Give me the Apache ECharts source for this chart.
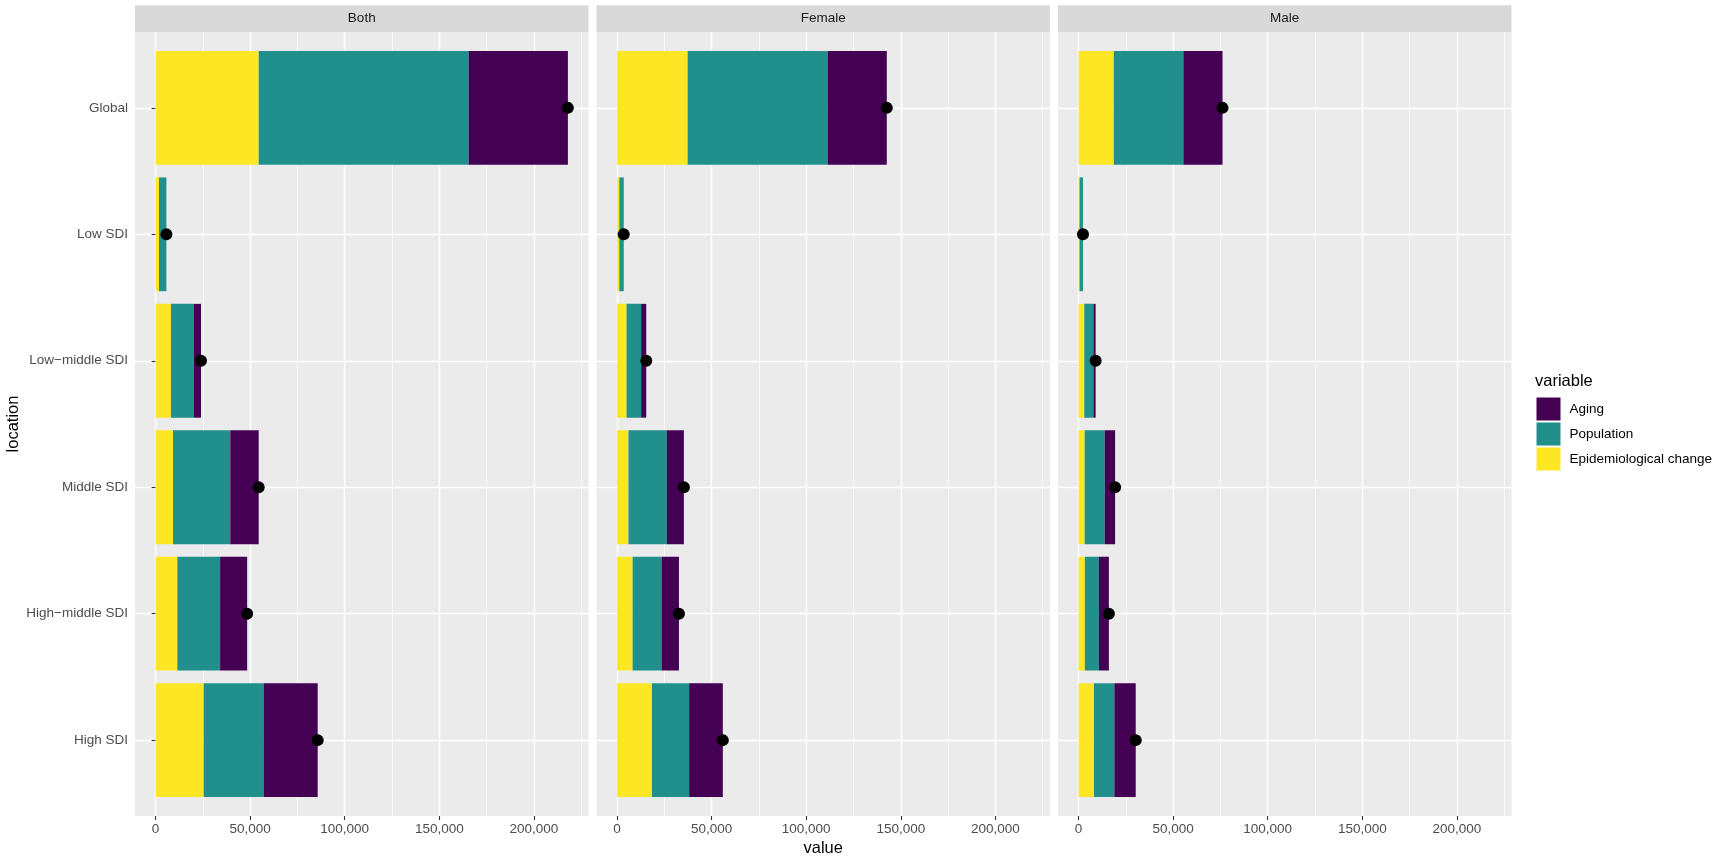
<!DOCTYPE html>
<html>
<head>
<meta charset="utf-8">
<title>Decomposition by SDI region</title>
<script src="https://cdn.jsdelivr.net/npm/echarts@6.0.0/dist/echarts.min.js"></script>
<style>
    html, body {
        margin: 0;
        padding: 0;
        background: #fff;
    }
    #chart {
        width: 1720px;
        height: 858px;
    }
</style>
</head>
<body>
<div id="chart"></div>
<script>
    var locations = ['Global', 'Low SDI', 'Low\u2212middle SDI', 'Middle SDI', 'High\u2212middle SDI', 'High SDI'];
    var panels = ['Both', 'Female', 'Male'];
    var legendOrder = ['Aging', 'Population', 'Epidemiological change'];

    // contributions, same order as locations
    var epiBoth = [54500, 1800, 8100, 9200, 11500, 25400];
    var popBoth = [111000, 3900, 12200, 30300, 22600, 31700];
    var agingBoth = [52500, 0, 3700, 15000, 14300, 28600];

    var epiFemale = [37300, 1200, 5000, 6000, 8200, 18400];
    var popFemale = [74000, 2300, 7700, 20300, 15300, 19700];
    var agingFemale = [31300, 0, 2700, 9000, 9200, 17800];

    var epiMale = [18600, 500, 3000, 3200, 3300, 8100];
    var popMale = [36800, 1800, 4800, 10600, 7400, 10800];
    var agingMale = [20700, 0, 1200, 5500, 5300, 11300];

    var xTicks = [0, 50000, 100000, 150000, 200000];
    var xMinorTicks = [25000, 75000, 125000, 175000, 225000];

    var colors = {
        'Aging': '#440154',
        'Population': '#21908C',
        'Epidemiological change': '#FDE725'
    };

    var panelData = [
        { epi: epiBoth, pop: popBoth, aging: agingBoth },
        { epi: epiFemale, pop: popFemale, aging: agingFemale },
        { epi: epiMale, pop: popMale, aging: agingMale }
    ];

    var font = 'Liberation Sans, Arial, sans-serif';

    // layout (ggplot-like facets)
    var panelLeft = [135, 596.5, 1058];
    var panelWidth = 453.5;
    var panelTop = 32;
    var panelBottom = 816;
    var band = (panelBottom - panelTop) / 6.2;
    var firstCenter = panelTop + 0.6 * band;
    var lastCenter = firstCenter + 5 * band;

    function totals(d) {
        return d.epi.map(function (v, i) { return v + d.pop[i] + d.aging[i]; });
    }

    var maxTotal = 0;
    panelData.forEach(function (d) {
        totals(d).forEach(function (t) { if (t > maxTotal) maxTotal = t; });
    });
    var xMin = -0.05 * maxTotal;
    var xMax = 1.05 * maxTotal;

    function fmt(v) {
        return String(Math.round(v)).replace(/\B(?=(\d{3})+(?!\d))/g, ',');
    }

    var grids = [], xAxes = [], yAxes = [], series = [], graphics = [];

    panels.forEach(function (name, i) {
        var d = panelData[i];
        // background panel
        grids.push({
            left: panelLeft[i], width: panelWidth, top: panelTop, bottom: 858 - panelBottom,
            show: true, backgroundColor: '#EBEBEB', borderWidth: 0, containLabel: false, outerBoundsMode: 'none', z: 0
        });
        // bars
        grids.push({
            left: panelLeft[i], width: panelWidth, top: firstCenter, bottom: 858 - lastCenter,
            show: false, containLabel: false, outerBoundsMode: 'none', z: 0
        });
        var ga = 2 * i, gb = 2 * i + 1;

        xAxes.push({
            type: 'value', gridIndex: ga, min: xMin, max: xMax, position: 'bottom', z: 1,
            axisLine: { show: false },
            axisTick: { show: true, length: 4, customValues: xTicks, lineStyle: { color: '#333333', width: 1.1 } },
            axisLabel: { customValues: xTicks, formatter: fmt, color: '#4D4D4D', fontSize: 13.5, fontFamily: font, margin: 6 },
            splitLine: { show: true, lineStyle: { color: '#FFFFFF', width: 1.4 } }
        });
        xAxes.push({
            type: 'value', gridIndex: ga, min: xMin, max: xMax, position: 'bottom', z: 1,
            axisLine: { show: false },
            axisTick: { show: false, customValues: xMinorTicks },
            axisLabel: { show: false, customValues: xMinorTicks },
            splitLine: { show: true, lineStyle: { color: '#FFFFFF', width: 0.7 } }
        });
        xAxes.push({
            type: 'value', gridIndex: gb, min: xMin, max: xMax, show: false,
            splitLine: { show: false }
        });
        var xb = xAxes.length - 1;

        yAxes.push({
            type: 'value', gridIndex: ga, min: 0, max: 1, show: false,
            splitLine: { show: false }
        });
        yAxes.push({
            type: 'category', gridIndex: gb, data: locations, inverse: true, boundaryGap: false, z: 1,
            axisLine: { show: false },
            axisTick: { show: i === 0, length: 4, lineStyle: { color: '#333333', width: 1.1 } },
            axisLabel: { show: i === 0, color: '#4D4D4D', fontSize: 13.5, fontFamily: font, margin: 7 },
            splitLine: { show: true, lineStyle: { color: '#FFFFFF', width: 1.4 } }
        });
        var yb = yAxes.length - 1;

        var stackName = 'stack' + i;
        [['Epidemiological change', d.epi], ['Population', d.pop], ['Aging', d.aging]].forEach(function (s) {
            series.push({
                name: s[0], type: 'bar', stack: stackName,
                xAxisIndex: xb, yAxisIndex: yb,
                barWidth: 0.9 * band, clip: false,
                itemStyle: { color: colors[s[0]] },
                data: s[1], z: 3
            });
        });
        series.push({
            name: 'total', type: 'scatter', xAxisIndex: xb, yAxisIndex: yb,
            symbolSize: 12, itemStyle: { color: '#000000', opacity: 1 },
            data: totals(d), z: 5, clip: false
        });

        // strip
        graphics.push({
            type: 'rect', left: panelLeft[i], top: 5.3,
            shape: { width: panelWidth, height: panelTop - 5.3 },
            style: { fill: '#D9D9D9' }, z: 0
        });
        graphics.push({
            type: 'text', x: panelLeft[i] + panelWidth / 2, y: (5.3 + panelTop) / 2,
            style: { text: name, fill: '#1A1A1A', fontSize: 13.5, fontFamily: font, align: 'center', verticalAlign: 'middle' },
            z: 1
        });
    });

    // axis titles
    graphics.push({
        type: 'text', x: (panelLeft[0] + panelLeft[2] + panelWidth) / 2, y: 848,
        style: { text: 'value', fill: '#000000', fontSize: 16.5, fontFamily: font, align: 'center', verticalAlign: 'middle' }
    });
    graphics.push({
        type: 'text', x: 13.5, y: (panelTop + panelBottom) / 2, rotation: Math.PI / 2,
        style: { text: 'location', fill: '#000000', fontSize: 16.5, fontFamily: font, align: 'center', verticalAlign: 'middle' }
    });
    graphics.push({
        type: 'text', x: 1535, y: 381,
        style: { text: 'variable', fill: '#000000', fontSize: 16.5, fontFamily: font, align: 'left', verticalAlign: 'middle' }
    });

    var chart = echarts.init(document.getElementById('chart'));
    chart.setOption({
        animation: false,
        backgroundColor: '#FFFFFF',
        grid: grids,
        xAxis: xAxes,
        yAxis: yAxes,
        legend: {
            data: legendOrder,
            orient: 'vertical',
            left: 1536.5,
            top: 397.5,
            itemWidth: 24,
            itemHeight: 23,
            itemGap: 2,
            icon: 'rect',
            padding: 0,
            selectedMode: false,
            textStyle: { color: '#000000', fontSize: 13.5, fontFamily: font, padding: [0, 0, 0, 4] }
        },
        graphic: graphics,
        series: series
    });
</script>
</body>
</html>
